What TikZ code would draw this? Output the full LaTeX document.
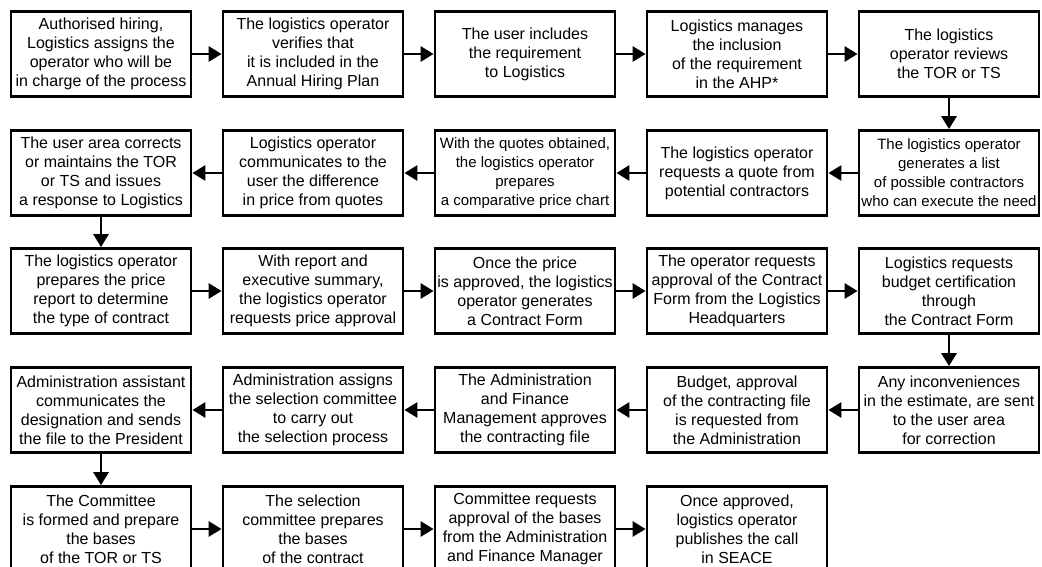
\documentclass[tikz,border=0pt]{standalone}
\usepackage{fontspec}
\setmainfont{Liberation Sans}
\usetikzlibrary{arrows.meta}
\begin{document}
\begin{tikzpicture}[x=1pt,y=-1pt,
  stepbox/.style={draw=black, line width=2.8pt, minimum width=180pt, minimum height=85pt,
    inner sep=0pt, align=center, font=\fontsize{16}{19}\selectfont},
  smalltext/.style={font=\fontsize{15}{19}\selectfont},
  flow/.style={line width=2.8pt, -{Triangle[length=13pt,width=15pt]}}]
\useasboundingbox (0,0) rectangle (1042,567);
% column and row centres
\def\ca{101}\def\cb{313}\def\cc{525}\def\cd{737}\def\ce{949}
\def\ra{54}\def\rb{173}\def\rc{291}\def\rd{410}\def\re{529}
% row 1, left to right
\node[stepbox] (n1) at (\ca,\ra) {Authorised hiring,\\Logistics assigns the\\operator who will be\\in charge of the process};
\node[stepbox] (n2) at (\cb,\ra) {The logistics operator\\verifies that\\it is included in the\\Annual Hiring Plan};
\node[stepbox] (n3) at (\cc,\ra) {The user includes\\the requirement\\to Logistics};
\node[stepbox] (n4) at (\cd,\ra) {Logistics manages\\the inclusion\\of the requirement\\in the AHP*};
\node[stepbox] (n5) at (\ce,\ra) {The logistics\\operator reviews\\the TOR or TS};
% row 2, right to left
\node[stepbox,smalltext] (n6) at (\ce,\rb) {The logistics operator\\generates a list\\of possible contractors\\who can execute the need};
\node[stepbox] (n7) at (\cd,\rb) {The logistics operator\\requests a quote from\\potential contractors};
\node[stepbox,smalltext] (n8) at (\cc,\rb) {With the quotes obtained,\\the logistics operator\\prepares\\a comparative price chart};
\node[stepbox] (n9) at (\cb,\rb) {Logistics operator\\communicates to the\\user the difference\\in price from quotes};
\node[stepbox] (n10) at (\ca,\rb) {The user area corrects\\or maintains the TOR\\or TS and issues\\a response to Logistics};
% row 3, left to right
\node[stepbox] (n11) at (\ca,\rc) {The logistics operator\\prepares the price\\report to determine\\the type of contract};
\node[stepbox] (n12) at (\cb,\rc) {With report and\\executive summary,\\the logistics operator\\requests price approval};
\node[stepbox] (n13) at (\cc,\rc) {Once the price\\is approved, the logistics\\operator generates\\a Contract Form};
\node[stepbox] (n14) at (\cd,\rc) {The operator requests\\approval of the Contract\\Form from the Logistics\\Headquarters};
\node[stepbox] (n15) at (\ce,\rc) {Logistics requests\\budget certification\\through\\the Contract Form};
% row 4, right to left
\node[stepbox] (n16) at (\ce,\rd) {Any inconveniences\\in the estimate, are sent\\to the user area\\for correction};
\node[stepbox] (n17) at (\cd,\rd) {Budget, approval\\of the contracting file\\is requested from\\the Administration};
\node[stepbox] (n18) at (\cc,\rd) {The Administration\\and Finance\\Management approves\\the contracting file};
\node[stepbox] (n19) at (\cb,\rd) {Administration assigns\\the selection committee\\to carry out\\the selection process};
\node[stepbox] (n20) at (\ca,\rd) {Administration assistant\\communicates the\\designation and sends\\the file to the President};
% row 5, left to right
\node[stepbox] (n21) at (\ca,\re) {The Committee\\is formed and prepare\\the bases\\of the TOR or TS};
\node[stepbox] (n22) at (\cb,\re) {The selection\\committee prepares\\the bases\\of the contract};
\node[stepbox] (n23) at (\cc,\re) {Committee requests\\approval of the bases\\from the Administration\\and Finance Manager};
\node[stepbox] (n24) at (\cd,\re) {Once approved,\\logistics operator\\publishes the call\\in SEACE};
% connectors
\foreach \a/\b in {n1/n2,n2/n3,n3/n4,n4/n5,n5/n6,n6/n7,n7/n8,n8/n9,n9/n10,n10/n11,
  n11/n12,n12/n13,n13/n14,n14/n15,n15/n16,n16/n17,n17/n18,n18/n19,n19/n20,n20/n21,
  n21/n22,n22/n23,n23/n24}
  \draw[flow] (\a) -- (\b);
\end{tikzpicture}
\end{document}
